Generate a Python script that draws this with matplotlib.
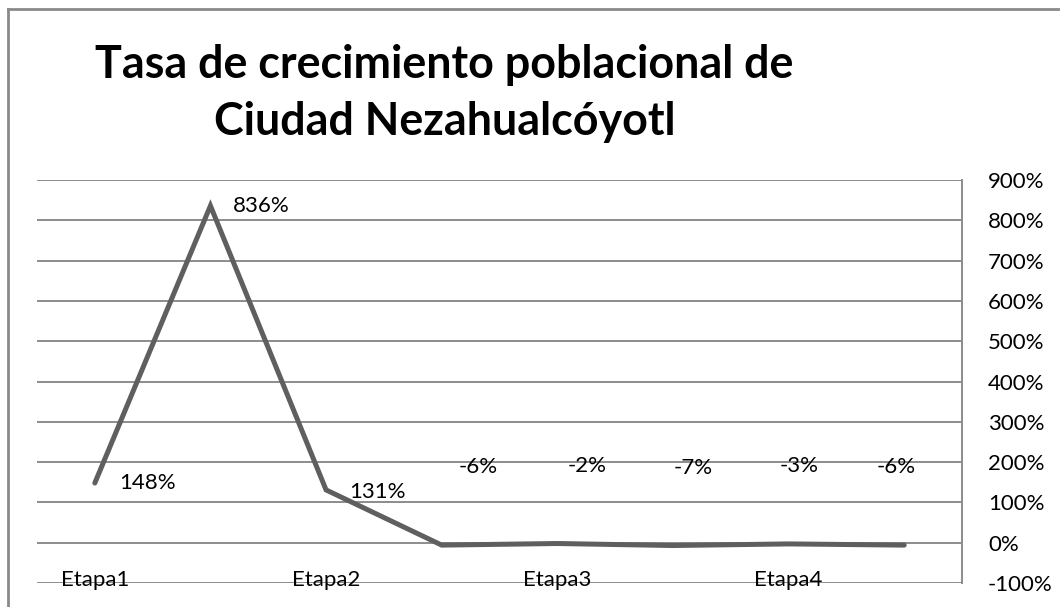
import matplotlib
matplotlib.use("Agg")
import matplotlib.pyplot as plt
from matplotlib.lines import Line2D
from matplotlib.ticker import FixedLocator, FuncFormatter

# ---- data ----
categories = ["Etapa1", "", "Etapa2", "", "Etapa3", "", "Etapa4", ""]
values = [148, 836, 131, -6, -2, -7, -3, -6]
value_labels = ["148%", "836%", "131%", "-6%", "-2%", "-7%", "-3%", "-6%"]
y_ticks = [-100, 0, 100, 200, 300, 400, 500, 600, 700, 800, 900]
title_lines = ["Tasa de crecimiento poblacional de", "Ciudad Nezahualcóyotl"]

# ---- layout (pixel offsets of the data labels relative to points) ----
label_offsets_px = [(24, 0, "left"), (22, 0, "left"), (23, -2, "left"),
                    (37, 78, "center"), (30, 78, "center"), (20, 78, "center"),
                    (11, 78, "center"), (-8, 78, "center")]

W, H = 1060, 607
DPI = 100
PX = 72.0 / DPI  # points per pixel
FS = 16

plt.rcParams["font.family"] = ["Lato", "DejaVu Sans"]

fig = plt.figure(figsize=(W / DPI, H / DPI), dpi=DPI)
fig.patch.set_facecolor("white")

# outer chart border (top and left visible)
border_c = "#8a8a8a"
fig.add_artist(Line2D([8 / W, 1.0], [1 - 9 / H, 1 - 9 / H], color=border_c, lw=2.0, transform=fig.transFigure))
fig.add_artist(Line2D([8 / W, 8 / W], [0, 1 - 9 / H], color=border_c, lw=2.0, transform=fig.transFigure))

left, right = 37 / W, 962 / W
bottom, top = (H - 583) / H, (H - 180) / H
ax = fig.add_axes([left, bottom, right - left, top - bottom])

x = list(range(len(values)))
ax.set_xlim(-0.5, len(values) - 0.5)
ax.set_ylim(-100, 900)

grid_c = "#8c8c8c"
for yv in y_ticks:
    ax.axhline(yv, color=grid_c, lw=1.4, zorder=1)

ax.plot(x, values, color="#5f5f5f", lw=3.6, solid_capstyle="round", solid_joinstyle="miter", zorder=3)

for xi, v, lab, (dx, dy, ha) in zip(x, values, value_labels, label_offsets_px):
    ax.annotate(lab, (xi, v), xytext=(dx * PX, dy * PX), textcoords="offset points",
                ha=ha, va="center", fontsize=FS, color="black", zorder=4)

# category labels sitting on the bottom gridline
for xi, c in zip(x, categories):
    if c:
        ax.annotate(c, (xi, -100), xytext=(0, -3 * PX), textcoords="offset points",
                    ha="center", va="baseline", fontsize=FS, color="black", zorder=4)

for s in ["top", "left", "bottom"]:
    ax.spines[s].set_visible(False)
ax.spines["right"].set_color(grid_c)
ax.spines["right"].set_linewidth(1.4)

ax.set_xticks([])
ax.yaxis.tick_right()
ax.yaxis.set_major_locator(FixedLocator(y_ticks))
ax.yaxis.set_major_formatter(FuncFormatter(lambda v, p: f"{int(v)}%"))
ax.tick_params(axis="y", length=0, pad=26 * PX, labelsize=FS, labelcolor="black")
for t in ax.get_yticklabels():
    t.set_horizontalalignment("left")

# title
cx = 444.5 / W
fig.text(cx, 1 - 78 / H, title_lines[0], ha="center", va="baseline", fontsize=32.3, fontweight="bold")
fig.text(cx, 1 - 135 / H, title_lines[1], ha="center", va="baseline", fontsize=32.3, fontweight="bold")

fig.savefig("out.png", dpi=DPI, facecolor="white")
